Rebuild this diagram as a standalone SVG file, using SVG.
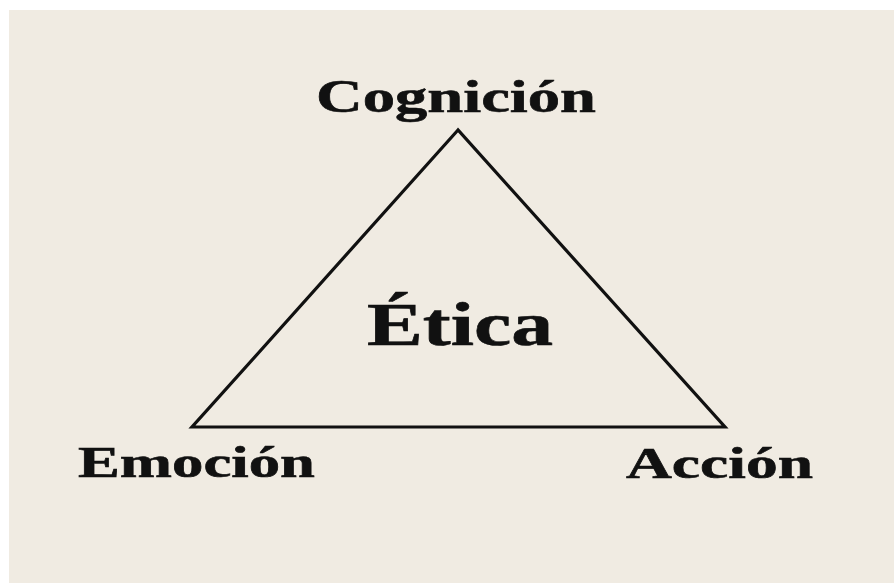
<svg xmlns="http://www.w3.org/2000/svg" width="894" height="585" viewBox="0 0 894 585">
  <style>
    .lbl { font-family: "Liberation Serif", "Times New Roman", serif; font-weight: bold; fill: #111; stroke: #111; stroke-width: 0.6; }
  </style>
  <rect x="0" y="0" width="894" height="585" fill="#ffffff"/>
  <rect x="9" y="10" width="885" height="573" fill="#f0ebe2"/>
  <g id="connectors">
    <polygon points="458,130 192,427 725,427" fill="none" stroke="#111" stroke-width="3.2" stroke-linejoin="miter"/>
  </g>
  <g id="cognicion">
    <text class="lbl" x="316" y="112" font-size="46" textLength="280" lengthAdjust="spacingAndGlyphs">Cognición</text>
  </g>
  <g id="etica">
    <text class="lbl" x="367" y="345" font-size="61" textLength="186" lengthAdjust="spacingAndGlyphs">Ética</text>
  </g>
  <g id="emocion">
    <text class="lbl" x="78" y="477" font-size="44" textLength="237" lengthAdjust="spacingAndGlyphs">Emoción</text>
  </g>
  <g id="accion">
    <text class="lbl" x="626" y="478" font-size="44" textLength="187" lengthAdjust="spacingAndGlyphs">Acción</text>
  </g>
</svg>
